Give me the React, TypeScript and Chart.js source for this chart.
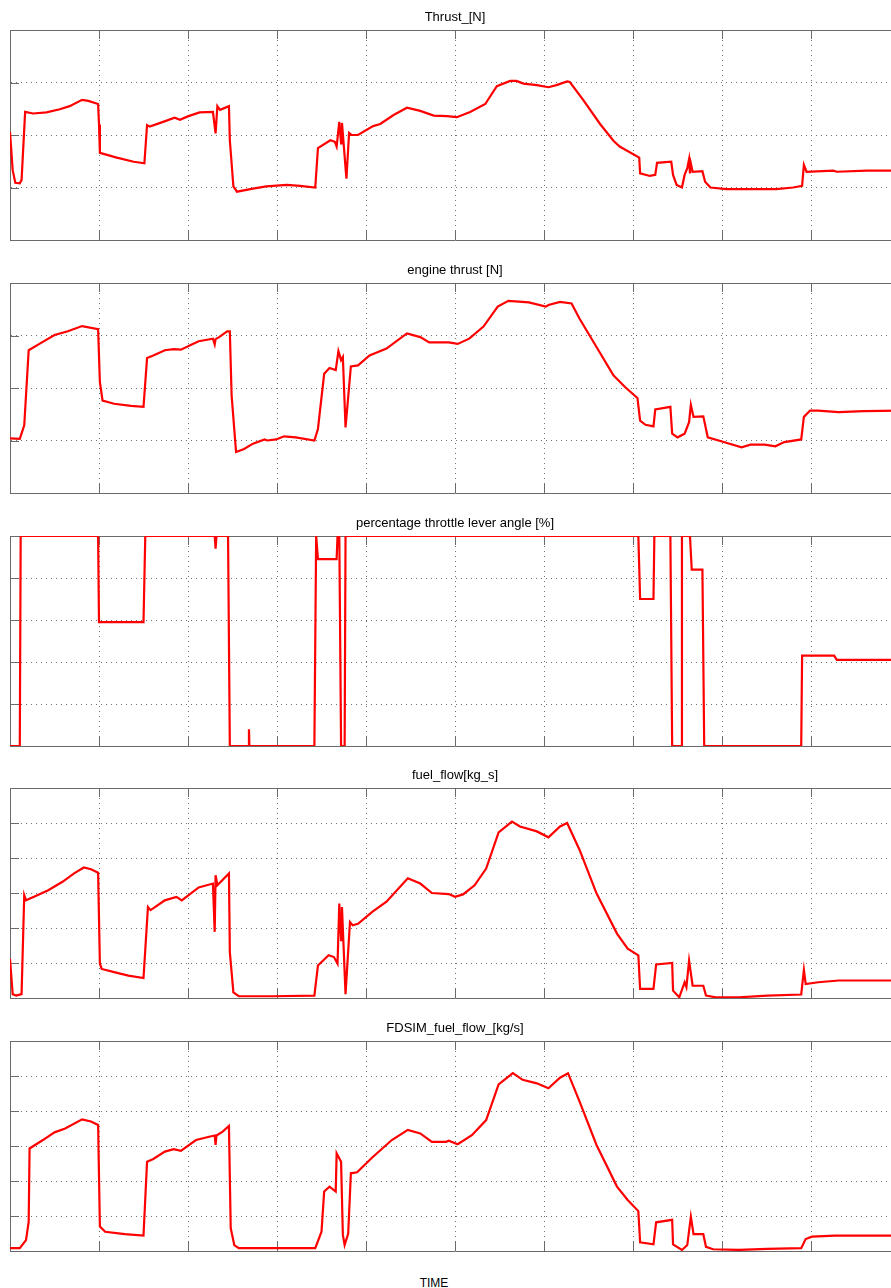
import React, { useEffect, useRef } from "react";
import { Chart, registerables } from "chart.js";

Chart.register(...registerables);

const FONT = "'Liberation Sans', Arial, Helvetica, sans-serif";
const AXIS_COLOR = "#6a6a6a";
const GRID_COLOR = "#707070";
const LINE_COLOR = "#ff0000";

// TIME axis (unlabelled in the reference): 0..1000 with a grid line every 100
const timeMin = 0;
const timeMax = 1000;
const timeStep = 100;

// [time, value] samples
const thrustN: [number, number][] = [
  [0, 20600], [3, 13300], [6, 10900], [11, 10800], [13, 11400], [17, 24400], [26, 24100], [41, 24300],
  [56, 24900], [67, 25500], [81, 26700], [88, 26500], [99, 25900], [100, 22000], [101, 16600], [120, 15700],
  [139, 14900], [151, 14600], [154, 21900], [157, 21600], [172, 22500], [185, 23300], [191, 22900], [199, 23500],
  [213, 24300], [228, 24400], [231, 20300], [233, 25500], [236, 24800], [246, 25500], [247, 19000], [251, 10200],
  [255, 9200], [273, 9800], [288, 10200], [311, 10500], [326, 10300], [343, 10000], [346, 17500], [360, 19000],
  [365, 18700], [367, 17800], [370, 22500], [372, 18400], [373, 22300], [378, 11700], [381, 20400], [384, 20000],
  [391, 20000], [408, 21700], [416, 22100], [431, 23800], [446, 25200], [461, 24600], [476, 23700], [491, 23600],
  [502, 23400], [517, 24400], [534, 25900], [547, 29300], [562, 30300], [569, 30300], [577, 29800], [592, 29500],
  [605, 29100], [614, 29500], [626, 30200], [629, 30100], [644, 26700], [663, 22100], [678, 18900], [685, 17800],
  [707, 15700], [708, 12700], [719, 12200], [725, 12400], [727, 14700], [743, 14900], [745, 12400], [749, 10500],
  [755, 10000], [758, 12400], [761, 13700], [763, 15400], [764, 12700], [765, 14600], [767, 13000], [778, 13100],
  [781, 11100], [787, 10000], [805, 9700], [831, 9700], [861, 9700], [880, 10000], [890, 10300], [892, 14300],
  [895, 13000], [925, 13200], [929, 13000], [963, 13200], [1000, 13200],
];

const engineThrustN: [number, number][] = [
  [0, 10400], [11, 10300], [16, 12900], [21, 27200], [34, 28500], [50, 30100], [65, 30800], [81, 31800],
  [99, 31200], [101, 21100], [104, 17600], [117, 17000], [136, 16600], [150, 16400], [154, 25700], [161, 26200],
  [174, 27200], [184, 27400], [192, 27300], [203, 28200], [212, 28900], [228, 29400], [230, 28300], [231, 29300],
  [235, 29700], [244, 30800], [247, 30800], [249, 18600], [254, 7800], [263, 8400], [273, 9400], [286, 10200],
  [289, 10000], [299, 10200], [308, 10800], [321, 10600], [342, 10000], [346, 12200], [353, 22700], [359, 23800],
  [366, 23400], [369, 27000], [372, 25300], [374, 25900], [377, 12500], [383, 24100], [391, 24300], [404, 26200],
  [423, 27500], [446, 30400], [461, 29700], [471, 28700], [493, 28700], [503, 28400], [516, 29400], [532, 31700],
  [548, 35500], [560, 36600], [583, 36300], [602, 35500], [605, 35800], [618, 36400], [631, 36100], [640, 33200],
  [659, 27800], [678, 22400], [691, 20200], [705, 18100], [708, 13800], [714, 13000], [723, 12700], [725, 15900],
  [742, 16400], [744, 11300], [750, 10600], [758, 11300], [763, 13500], [765, 16800], [768, 14500], [779, 14600],
  [784, 10600], [800, 9800], [822, 8700], [832, 9200], [848, 9200], [860, 8900], [870, 9700], [889, 10200],
  [892, 14500], [899, 15700], [908, 15700], [931, 15400], [959, 15600], [1000, 15700],
];

const throttlePct: [number, number][] = [
  [0, 0], [11, 0], [12, 100], [99, 100], [100, 59], [150, 59], [152, 100], [230, 100], [231, 94], [232, 100],
  [245, 100], [247, 0], [268, 0], [268.5, 8], [269, 0], [342, 0], [344, 100], [346, 89], [367, 89], [368, 100],
  [370, 100], [372, 0], [376, 0], [377, 100], [706, 100], [708, 70], [723, 70], [724, 100], [742, 100], [744, 0],
  [754, 0], [755, 100], [764, 100], [766, 84], [778, 84], [780, 0], [889, 0], [890, 43], [926, 43], [929, 41],
  [1000, 41],
];

const fuelFlowKgS: [number, number][] = [
  [0, 0.112], [3, 0.011], [7, 0.007], [13, 0.011], [16, 0.294], [18, 0.279], [27, 0.289], [43, 0.308],
  [59, 0.332], [72, 0.356], [83, 0.373], [91, 0.368], [99, 0.358], [101, 0.098], [103, 0.083], [117, 0.074],
  [133, 0.064], [150, 0.057], [155, 0.26], [158, 0.251], [174, 0.279], [187, 0.289], [193, 0.279], [212, 0.316],
  [228, 0.327], [230, 0.189], [231, 0.351], [233, 0.322], [246, 0.356], [247, 0.131], [251, 0.016], [257, 0.005],
  [295, 0.005], [342, 0.007], [346, 0.093], [358, 0.122], [364, 0.117], [368, 0.098], [370, 0.27], [372, 0.165],
  [373, 0.26], [377, 0.011], [382, 0.217], [385, 0.208], [391, 0.212], [407, 0.246], [423, 0.275], [447, 0.342],
  [461, 0.327], [474, 0.3], [493, 0.297], [500, 0.289], [509, 0.296], [522, 0.322], [535, 0.37], [549, 0.473],
  [564, 0.504], [573, 0.49], [592, 0.476], [605, 0.459], [618, 0.49], [626, 0.5], [640, 0.423], [659, 0.299],
  [682, 0.184], [694, 0.141], [706, 0.122], [708, 0.026], [723, 0.026], [726, 0.096], [744, 0.1], [745, 0.021],
  [752, 0.002], [758, 0.045], [760, 0.031], [763, 0.107], [767, 0.035], [779, 0.035], [782, 0.007], [793, 0.002],
  [819, 0.002], [851, 0.007], [889, 0.01], [892, 0.08], [894, 0.04], [908, 0.045], [931, 0.05], [947, 0.05],
  [1000, 0.05],
];

const fdsimFuelFlowKgS: [number, number][] = [
  [0, 0.008], [11, 0.008], [18, 0.031], [21, 0.084], [22, 0.293], [37, 0.317], [50, 0.339], [62, 0.35],
  [81, 0.376], [91, 0.37], [99, 0.36], [101, 0.07], [107, 0.055], [129, 0.048], [150, 0.044], [154, 0.255],
  [161, 0.263], [174, 0.284], [184, 0.291], [192, 0.286], [209, 0.317], [225, 0.327], [230, 0.33], [231, 0.303],
  [232, 0.33], [239, 0.341], [246, 0.357], [248, 0.065], [252, 0.017], [257, 0.008], [308, 0.008], [343, 0.008],
  [350, 0.055], [353, 0.17], [359, 0.184], [366, 0.17], [367, 0.279], [372, 0.255], [374, 0.046], [376, 0.017],
  [380, 0.05], [383, 0.222], [390, 0.225], [407, 0.267], [429, 0.317], [447, 0.346], [461, 0.336], [474, 0.312],
  [490, 0.312], [493, 0.315], [503, 0.305], [519, 0.331], [535, 0.374], [549, 0.476], [565, 0.508], [576, 0.489],
  [592, 0.479], [605, 0.465], [618, 0.495], [627, 0.508], [640, 0.427], [659, 0.303], [682, 0.184], [694, 0.146],
  [706, 0.114], [708, 0.025], [723, 0.019], [726, 0.082], [744, 0.089], [745, 0.019], [755, 0.003], [761, 0.017],
  [765, 0.098], [768, 0.048], [779, 0.048], [782, 0.012], [790, 0.005], [819, 0.003], [851, 0.006], [889, 0.008],
  [894, 0.034], [901, 0.041], [927, 0.044], [1000, 0.044],
];

const panelTitles = [
  "Thrust_[N]",
  "engine thrust [N]",
  "percentage throttle lever angle [%]",
  "fuel_flow[kg_s]",
  "FDSIM_fuel_flow_[kg/s]",
];
const panelSeries = [thrustN, engineThrustN, throttlePct, fuelFlowKgS, fdsimFuelFlowKgS];
const yMins = [0, 0, 0, 0, 0];
const yMaxs = [40000, 40000, 100, 0.6, 0.6];
const ySteps = [10000, 10000, 20, 0.1, 0.1];
const xLabel = "TIME";

const innerTicks = {
  id: "innerTicks",
  beforeDatasetsDraw(chart: any) {
    const { ctx, chartArea: a, scales } = chart;
    const L = 9;
    ctx.save();
    ctx.strokeStyle = AXIS_COLOR;
    ctx.lineWidth = 1;
    ctx.setLineDash([]);
    ctx.beginPath();
    scales.x.ticks.forEach((t: any) => {
      const px = Math.round(scales.x.getPixelForValue(t.value)) + 0.5;
      ctx.moveTo(px, a.top);
      ctx.lineTo(px, a.top + L);
      ctx.moveTo(px, a.bottom);
      ctx.lineTo(px, a.bottom - L);
    });
    scales.y.ticks.forEach((t: any) => {
      const py = Math.round(scales.y.getPixelForValue(t.value)) + 0.5;
      ctx.moveTo(a.left, py);
      ctx.lineTo(a.left + L, py);
    });
    ctx.stroke();
    ctx.restore();
  },
};

const CANVAS_W = 910;
const CANVAS_H = 242;

function Panel(props: { index: number; top: number }) {
  const ref = useRef<HTMLCanvasElement | null>(null);
  const i = props.index;
  useEffect(() => {
    if (!ref.current) return;
    const chart = new Chart(ref.current, {
      type: "line",
      data: {
        datasets: [
          {
            data: panelSeries[i].map(([x, y]) => ({ x, y })),
            borderColor: LINE_COLOR,
            borderWidth: 2.2,
            pointRadius: 0,
            tension: 0,
            fill: false,
          },
        ],
      },
      options: {
        animation: false,
        responsive: false,
        maintainAspectRatio: false,
        layout: { padding: { left: 10, right: 10, top: 0, bottom: 2 } },
        plugins: {
          legend: { display: false },
          tooltip: { enabled: false },
          title: {
            display: true,
            text: panelTitles[i],
            color: "#000000",
            font: { family: FONT, size: 13, weight: "normal" },
            padding: { top: 10, bottom: 4.4 },
          },
        },
        scales: {
          x: {
            type: "linear",
            position: "bottom",
            min: timeMin,
            max: timeMax,
            ticks: { display: false, stepSize: timeStep },
            grid: { color: GRID_COLOR, drawTicks: false, tickLength: 0 },
            border: { display: true, color: AXIS_COLOR, dash: [1, 4] },
            afterFit: (s: any) => {
              s.height = 0;
            },
          },
          x2: {
            type: "linear",
            position: "top",
            min: timeMin,
            max: timeMax,
            ticks: { display: false },
            grid: { display: false, drawTicks: false },
            border: { display: true, color: AXIS_COLOR },
            afterFit: (s: any) => {
              s.height = 0;
            },
          },
          y: {
            type: "linear",
            min: yMins[i],
            max: yMaxs[i],
            ticks: { display: false, stepSize: ySteps[i] },
            grid: { color: GRID_COLOR, drawTicks: false, tickLength: 0 },
            border: { display: true, color: AXIS_COLOR, dash: [1, 4] },
            afterFit: (s: any) => {
              s.width = 0;
            },
          },
        },
      } as any,
      plugins: [innerTicks],
    });
    return () => chart.destroy();
  }, [i]);
  return (
    <canvas
      ref={ref}
      width={CANVAS_W}
      height={CANVAS_H}
      style={{ position: "absolute", left: 0, top: props.top, width: CANVAS_W, height: CANVAS_H, display: "block" }}
    />
  );
}

export default function App() {
  const plotTops = [30, 283, 536, 788, 1041];
  return (
    <div
      style={{
        position: "absolute",
        left: 0,
        top: 0,
        width: 891,
        height: 1288,
        overflow: "hidden",
        background: "#ffffff",
      }}
    >
      {plotTops.map((t, i) => (
        <Panel key={i} index={i} top={t - 30} />
      ))}
      <div
        style={{
          position: "absolute",
          left: 434,
          top: 1276,
          transform: "translateX(-50%)",
          fontFamily: FONT,
          fontSize: 12,
          lineHeight: "15px",
          color: "#000",
          whiteSpace: "nowrap",
        }}
      >
        {xLabel}
      </div>
    </div>
  );
}
